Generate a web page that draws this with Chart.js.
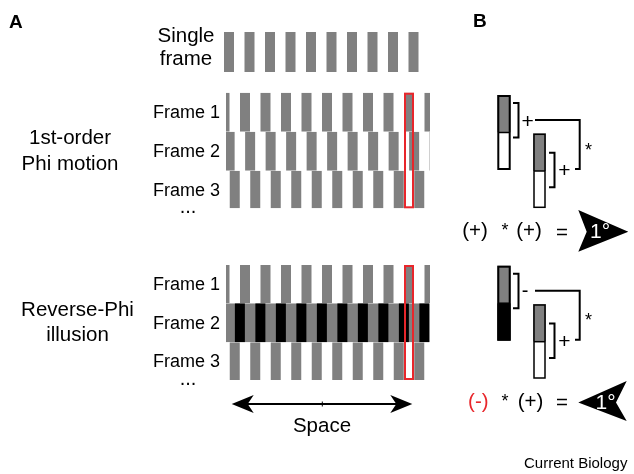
<!DOCTYPE html>
<html lang="en">
<head>
<meta charset="UTF-8">
<title>Phi and reverse-phi motion</title>
<script src="https://cdn.jsdelivr.net/npm/chart.js@4"></script>
<style>
  html, body { margin: 0; padding: 0; background: #fff; }
  #wrap { width: 634px; height: 474px; }
</style>
</head>
<body>
<div id="wrap"><canvas id="fig"></canvas></div>
<script>
// stimulus: square-wave grating, each frame shifted a quarter cycle
const frameLabels = ['Frame 1', 'Frame 2', 'Frame 3'];
const framePhase = [0, 0.25, 0.5];          // grating cycles
const phiContrast = [1, 1, 1];              // +1 gray bars on white
const reversePhiContrast = [1, -1, 1];      // -1 contrast inverted
const singleFrameBars = 10;
// correlator, panel B
const phiSigns = ['+', '+'];
const reversePhiSigns = ['-', '+'];
const outputDirection = [1, -1];            // +1 right, -1 left
const outputLabel = '1°';

// layout (pixels)
const W = 634, H = 474;
const GRAY = '#808080', RED = '#e8262b';
const FONT = '"Liberation Sans", Arial, sans-serif';
const period = 20.5, barW = 10, gratingX0 = 219.5, clipX = [226, 430];
const phiRows = [92.7, 131.7, 170.7, 208.3];
const revRows = [265, 303.3, 342.3, 380];

const figurePlugin = {
  id: 'figure',
  afterDraw(chart) {
    const { ctx, scales } = chart;
    const X = v => scales.x.getPixelForValue(v);
    const Y = v => scales.y.getPixelForValue(v);
    const rect = (x0, y0, x1, y1, col) => {
      ctx.fillStyle = col;
      ctx.fillRect(X(x0), Y(y0), X(x1) - X(x0), Y(y1) - Y(y0));
    };
    const text = (s, px, py, size, opts = {}) => {
      ctx.font = (opts.bold ? 'bold ' : '') + size + 'px ' + FONT;
      ctx.fillStyle = opts.color || '#000';
      ctx.textAlign = opts.align || 'center';
      ctx.textBaseline = 'alphabetic';
      let by = Y(py);
      if (opts.mid) {
        const m = ctx.measureText(s);
        by = Y(py) + (m.actualBoundingBoxAscent - m.actualBoundingBoxDescent) / 2;
      }
      ctx.fillText(s, X(px), by);
    };
    const poly = (pts, col, close, lw) => {
      ctx.beginPath();
      pts.forEach((p, i) => i ? ctx.lineTo(X(p[0]), Y(p[1])) : ctx.moveTo(X(p[0]), Y(p[1])));
      if (close) { ctx.closePath(); ctx.fillStyle = col; ctx.fill(); }
      else { ctx.strokeStyle = col; ctx.lineWidth = lw || 2; ctx.stroke(); }
    };

    ctx.save();
    // panel letters
    text('A', 9, 28.3, 19, { bold: true, align: 'left' });
    text('B', 473, 26.7, 19, { bold: true, align: 'left' });

    // single frame
    text('Single', 186, 41.7, 20.5);
    text('frame', 186, 64.8, 20.5);
    for (let k = 0; k < singleFrameBars; k++) {
      const x0 = 224 + k * period;
      rect(x0, 32, x0 + barW, 72, GRAY);
    }

    // grating rows
    const drawRows = (rows, contrast) => {
      frameLabels.forEach((lab, i) => {
        const y0 = rows[i], y1 = rows[i + 1];
        text(lab, 220, (y0 + y1) / 2 + 6, 18, { align: 'right' });
        ctx.save();
        ctx.beginPath();
        ctx.rect(X(clipX[0]), Y(y0), X(clipX[1]) - X(clipX[0]), Y(y1) - Y(y0));
        ctx.clip();
        if (contrast[i] > 0) {
          for (let k = -1; k <= 11; k++) {
            const x0 = gratingX0 + period * (k + framePhase[i]);
            rect(x0, y0, x0 + barW, y1, GRAY);
          }
        } else {
          rect(clipX[0], y0, clipX[1] - 0.7, y1, GRAY);
          for (let k = -1; k <= 11; k++) {
            const x0 = gratingX0 + period * (k + framePhase[i] + 0.5);
            rect(x0, y0, x0 + barW, y1, '#000');
          }
        }
        ctx.restore();
      });
      text('...', 188, rows[3] + 4.5, 20);
      // red probe box over one bar of frame 1
      const bx = gratingX0 + 9 * period;
      ctx.strokeStyle = RED;
      ctx.lineWidth = 2;
      ctx.strokeRect(X(bx + 1), Y(rows[0] + 1), X(bx + barW - 1) - X(bx + 1), Y(rows[3] - 1) - Y(rows[0] + 1));
    };

    text('1st-order', 70, 144, 20.5);
    text('Phi motion', 70, 169.5, 20.5);
    drawRows(phiRows, phiContrast);

    text('Reverse-Phi', 77.5, 316, 20.5);
    text('illusion', 77.5, 340.7, 20.5);
    drawRows(revRows, reversePhiContrast);

    // space arrow
    const ay = 404, ax0 = 231.7, ax1 = 412.3;
    poly([[ax0 + 10, ay], [ax1 - 10, ay]], '#000', false, 2);
    poly([[ax0, ay], [ax0 + 22, ay - 9], [ax0 + 16, ay], [ax0 + 22, ay + 9]], '#000', true);
    poly([[ax1, ay], [ax1 - 22, ay - 9], [ax1 - 16, ay], [ax1 - 22, ay + 9]], '#000', true);
    poly([[322.3, ay - 2.5], [322.3, ay + 2.5]], '#000', false, 1);
    text('Space', 322, 431.7, 20.5);

    // panel B correlators
    const correlator = (top, signs, frame2Contrast, dir) => {
      const o = top;
      // bar 1
      rect(497.3, o, 510.7, o + 37.5, GRAY);
      rect(497.3, o + 37.5, 510.7, o + 75, frame2Contrast > 0 ? '#fff' : '#000');
      ctx.strokeStyle = '#000'; ctx.lineWidth = 2;
      ctx.strokeRect(X(498.3), Y(o + 1), X(509.7) - X(498.3), Y(o + 74) - Y(o + 1));
      poly([[498.3, o + 37.5], [509.7, o + 37.5]], '#000', false, 1.5);
      // bar 2
      const o2 = o + 38.3;
      rect(533, o2, 546, o2 + 37.7, GRAY);
      rect(533, o2 + 37.7, 546, o2 + 75, '#fff');
      ctx.strokeRect(X(534), Y(o2 + 1), X(545) - X(534), Y(o2 + 74) - Y(o2 + 1));
      poly([[534, o2 + 37.7], [545, o2 + 37.7]], '#000', false, 1.5);
      // brackets
      poly([[513, o + 8], [518.5, o + 8], [518.5, o + 42.5], [513, o + 42.5]], '#000', false, 2);
      poly([[549, o2 + 19.4], [554.5, o2 + 19.4], [554.5, o2 + 54], [549, o2 + 54]], '#000', false, 2);
      text(signs[0], signs[0] === '+' ? 527.7 : 525, o + 25.5, signs[0] === '+' ? 21 : 20, { mid: true });
      text(signs[1], 564.5, o2 + 36.7, 21, { mid: true });
      // multiplication connector
      poly([[535, o + 25], [579.7, o + 25], [579.7, o + 74], [575, o + 74]], '#000', false, 2);
      text('*', 588.5, o + 51, 18, { mid: true });
      // equation
      const ey = o + 136.7;
      text('(' + signs[0] + ')', signs[0] === '+' ? 475 : 478.3, ey, 20.5,
           { mid: true, color: signs[0] === '-' ? RED : '#000' });
      text('*', 505, ey - 5, 18, { mid: true });
      text('(' + signs[1] + ')', signs[0] === '+' ? 529 : 530.5, ey, 20.5, { mid: true });
      text('=', 562, ey, 20.5, { mid: true });
      // output arrowhead
      if (dir > 0) {
        poly([[578.3, ey - 21.7], [628.3, ey], [578.3, ey + 20], [586.7, ey]], '#000', true);
        text(outputLabel, 600, ey - 1.5, 21, { mid: true, color: '#fff' });
      } else {
        poly([[578.3, ey], [626.7, ey - 21.3], [616, ey], [626.7, ey + 18.7]], '#000', true);
        text(outputLabel, 605.5, ey - 1, 21, { mid: true, color: '#fff' });
      }
    };
    correlator(95, phiSigns, phiContrast[1], outputDirection[0]);
    correlator(265.7, reversePhiSigns, reversePhiContrast[1], outputDirection[1]);

    text('Current Biology', 524, 468, 15, { align: 'left' });
    ctx.restore();
  }
};

new Chart(document.getElementById('fig'), {
  type: 'scatter',
  data: { datasets: [] },
  options: {
    responsive: true,
    maintainAspectRatio: false,
    animation: false,
    layout: { padding: 0 },
    plugins: { legend: { display: false }, tooltip: { enabled: false } },
    scales: {
      x: { type: 'linear', min: 0, max: W, display: false },
      y: { type: 'linear', min: 0, max: H, reverse: true, display: false }
    }
  },
  plugins: [figurePlugin]
});
</script>
</body>
</html>
